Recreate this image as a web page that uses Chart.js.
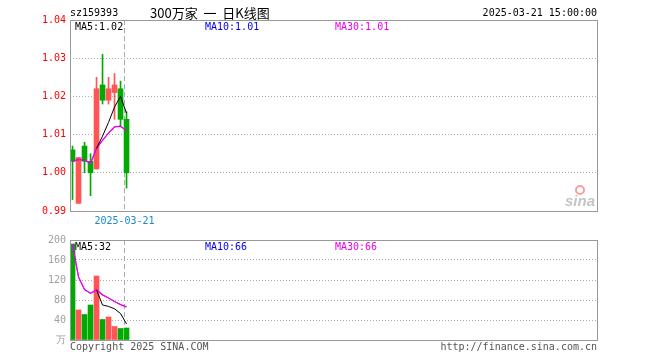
<!DOCTYPE html>
<html>
<head>
<meta charset="utf-8">
<script src="https://cdn.jsdelivr.net/npm/chart.js@4"></script>
<style>
  body { margin: 0; background: #fff; }
  #wrap { position: relative; width: 660px; height: 360px; }
  #kline { position: absolute; left: 0; top: 0; }
  #vol { position: absolute; left: 0; top: 230px; }
</style>
</head>
<body>
<div id="wrap">
  <canvas id="kline" width="660" height="230"></canvas>
  <canvas id="vol" width="660" height="130"></canvas>
</div>
<script>
// --- DATA ---
const dayIndex = [0, 1, 2, 3, 4, 5, 6, 7, 8, 9];
const opens  = [1.006, 0.992, 1.007, 1.003, 1.001, 1.023, 1.019, 1.021, 1.022, 1.014];
const closes = [1.003, 1.004, 1.003, 1.000, 1.022, 1.019, 1.022, 1.023, 1.014, 1.000];
const highs  = [1.007, 1.004, 1.008, 1.005, 1.025, 1.031, 1.025, 1.026, 1.024, 1.016];
const lows   = [0.993, 0.992, 1.000, 0.994, 1.001, 1.018, 1.018, 1.014, 1.012, 0.996];
const ma5    = [null, null, null, null, 1.0064, 1.0096, 1.0132, 1.0172, 1.0200, 1.0156];
const ma10   = [1.0030, 1.0035, 1.0033, 1.0025, 1.0064, 1.0085, 1.0104, 1.0120, 1.0122, 1.0110];
const ma30   = [1.0030, 1.0035, 1.0033, 1.0025, 1.0064, 1.0085, 1.0104, 1.0120, 1.0122, 1.0110];
const volumes = [192, 60, 51, 70, 128, 41, 46, 27, 23, 24];   // 万
const volMa5  = [null, null, null, null, 100.2, 70, 67.2, 62.4, 53, 32.2];
const volMa10 = [192, 126, 101, 93.3, 100.2, 90.3, 84, 76.9, 70.9, 66.2];
const volMa30 = [192, 126, 101, 93.3, 100.2, 90.3, 84, 76.9, 70.9, 66.2];
const priceTicks = [0.99, 1.00, 1.01, 1.02, 1.03, 1.04];
const volTicks = [0, 40, 80, 120, 160, 200];
const lastDateLabel = '2025-03-21';
const lastDateTick = 8.67;

const RED = '#ff5555';
const GREEN = '#00aa00';
const MONO = "'DejaVu Sans Mono', monospace";

const colors = dayIndex.map(i => closes[i] >= opens[i] ? RED : GREEN);
const xy = (arr) => arr.map((v, i) => ({ x: dayIndex[i], y: v }));

function lineDs(label, arr, color, order, width) {
  return {
    type: 'line', label: label, data: xy(arr),
    borderColor: color, borderWidth: width || 1, pointRadius: 0,
    tension: 0, fill: false, order: order
  };
}

// cadre gris autour de la zone du graphe
const framePlugin = {
  id: 'frame',
  afterDraw(chart) {
    const a = chart.chartArea;
    const ctx = chart.ctx;
    ctx.save();
    ctx.strokeStyle = '#999';
    ctx.lineWidth = 1;
    ctx.strokeRect(Math.round(a.left) + 0.5, Math.round(a.top) + 0.5,
      Math.round(a.right - a.left), Math.round(a.bottom - a.top));
    ctx.restore();
  }
};

function xScale(showLabel) {
  return {
    type: 'linear', min: -0.42, max: 87.41, offset: false,
    grid: { color: '#aaa', drawTicks: false, offset: false },
    border: { display: false, dash: [5, 3] },
    ticks: {
      display: showLabel, autoSkip: false, padding: 4,
      color: '#1a88d0', font: { family: MONO, size: 10 },
      callback: () => lastDateLabel
    },
    afterBuildTicks: s => { s.ticks = [{ value: lastDateTick }]; }
  };
}

// --- K LINE ---
const klineText = {
  id: 'klineText',
  afterDraw(chart) {
    const ctx = chart.ctx;
    ctx.save();
    ctx.textBaseline = 'middle';
    ctx.font = '10px ' + MONO;
    ctx.fillStyle = '#000';
    ctx.fillText('sz159393', 70, 13);
    ctx.textAlign = 'right';
    ctx.fillText('2025-03-21 15:00:00', 597, 13);
    ctx.textAlign = 'left';
    ctx.font = "13px 'Noto Sans CJK SC', sans-serif";
    ctx.fillText('300万家  一  日K线图', 150, 13);
    ctx.font = '10px ' + MONO;
    ctx.fillStyle = '#000';
    ctx.fillText('MA5:' + ma5[ma5.length - 1].toFixed(2), 75, 27);
    ctx.fillStyle = '#0000ee';
    ctx.fillText('MA10:' + ma10[ma10.length - 1].toFixed(2), 205, 27);
    ctx.fillStyle = '#ee00ee';
    ctx.fillText('MA30:' + ma30[ma30.length - 1].toFixed(2), 335, 27);
    // logo sina en filigrane
    ctx.strokeStyle = '#f4a0a0';
    ctx.lineWidth = 2;
    ctx.beginPath();
    ctx.arc(580, 190, 4, 0, Math.PI * 2);
    ctx.stroke();
    ctx.fillStyle = '#c4c4c4';
    ctx.font = "italic bold 15px 'Liberation Sans', sans-serif";
    ctx.fillText('sina', 565, 202);
    ctx.restore();
  }
};

new Chart(document.getElementById('kline').getContext('2d'), {
  type: 'bar',
  data: {
    datasets: [
      lineDs('MA5', ma5, '#000', 0),
      lineDs('MA10', ma10, '#0000ee', 1, 0.6),
      lineDs('MA30', ma30, '#ee00ee', 0, 1.3),
      { label: 'wick', data: xy(lows.map((l, i) => [l, highs[i]])),
        backgroundColor: colors, barThickness: 1, grouped: false, order: 4 },
      { label: 'body', data: xy(opens.map((o, i) => [o, closes[i]])),
        backgroundColor: colors, barThickness: 5, grouped: false, order: 3 }
    ]
  },
  options: {
    responsive: false, animation: false,
    layout: { padding: { left: 0, top: 20, right: 63, bottom: 0 } },
    plugins: { legend: { display: false }, tooltip: { enabled: false } },
    scales: {
      x: Object.assign(xScale(true), { afterFit: s => { s.height = 19; } }),
      y: {
        min: 0.99, max: 1.04,
        grid: { color: '#aaa', drawTicks: false },
        border: { display: false, dash: [1, 2] },
        ticks: { padding: 4, color: '#ff0000', font: { family: MONO, size: 10 },
          callback: v => v.toFixed(2) },
        afterBuildTicks: s => { s.ticks = priceTicks.map(v => ({ value: v })); },
        afterFit: s => { s.width = 70; }
      }
    }
  },
  plugins: [framePlugin, klineText]
});

// --- VOLUME ---
const volText = {
  id: 'volText',
  afterDraw(chart) {
    const ctx = chart.ctx;
    ctx.save();
    ctx.textBaseline = 'middle';
    ctx.font = '10px ' + MONO;
    ctx.fillStyle = '#000';
    ctx.fillText('MA5:' + Math.round(volMa5[volMa5.length - 1]), 75, 17);
    ctx.fillStyle = '#0000ee';
    ctx.fillText('MA10:' + Math.round(volMa10[volMa10.length - 1]), 205, 17);
    ctx.fillStyle = '#ee00ee';
    ctx.fillText('MA30:' + Math.round(volMa30[volMa30.length - 1]), 335, 17);
    ctx.fillStyle = '#555';
    ctx.fillText('Copyright 2025 SINA.COM', 70, 117);
    ctx.textAlign = 'right';
    ctx.fillText('http://finance.sina.com.cn', 597, 117);
    ctx.restore();
  }
};

new Chart(document.getElementById('vol').getContext('2d'), {
  type: 'bar',
  data: {
    datasets: [
      lineDs('MA5', volMa5, '#000', 0),
      lineDs('MA10', volMa10, '#0000ee', 1, 0.6),
      lineDs('MA30', volMa30, '#ee00ee', 0, 1.3),
      { label: 'vol', data: xy(volumes), backgroundColor: colors,
        barThickness: 5, grouped: false, order: 3 }
    ]
  },
  options: {
    responsive: false, animation: false,
    layout: { padding: { left: 0, top: 10, right: 63, bottom: 0 } },
    plugins: { legend: { display: false }, tooltip: { enabled: false } },
    scales: {
      x: Object.assign(xScale(false), { afterFit: s => { s.height = 20; } }),
      y: {
        min: 0, max: 200,
        grid: { color: '#aaa', drawTicks: false },
        border: { display: false, dash: [1, 2] },
        ticks: { padding: 4, color: '#a0a0a0', font: { family: MONO, size: 10 },
          callback: v => v === 0 ? '万' : v },
        afterBuildTicks: s => { s.ticks = volTicks.map(v => ({ value: v })); },
        afterFit: s => { s.width = 70; }
      }
    }
  },
  plugins: [framePlugin, volText]
});
</script>
</body>
</html>
